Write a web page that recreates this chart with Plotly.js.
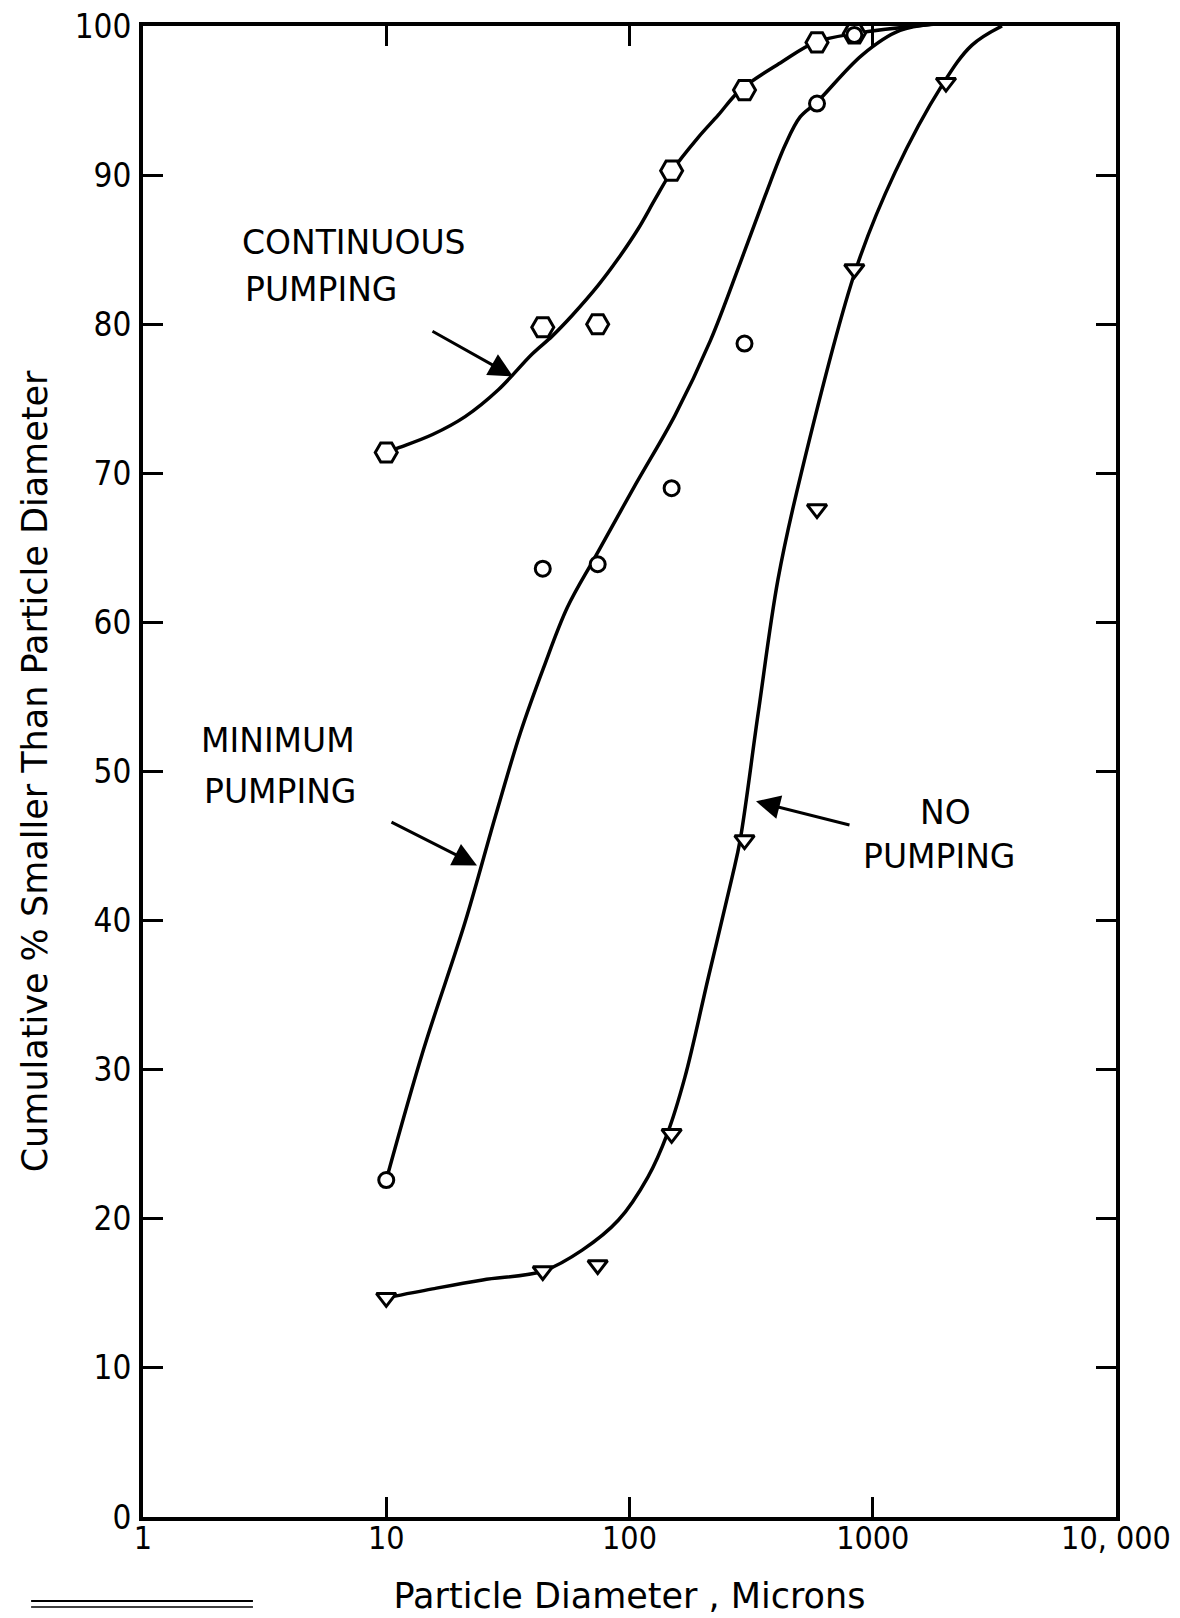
<!DOCTYPE html>
<html>
<head>
<meta charset="utf-8">
<script src="https://cdn.plot.ly/plotly-3.0.1.min.js"></script>
<style>html,body{margin:0;padding:0;background:#fff;}#chart{width:1180px;height:1618px;}</style>
</head>
<body>
<div id="chart"></div>
<script>
// Measured sieve sizes (microns)
const sizes = [10, 44, 74, 149, 297, 590, 840, 2000];
// Measured points, cumulative % smaller than particle diameter
const continuousPts = [71.4, 79.8, 80.0, 90.3, 95.7, 98.9, 99.5, 100.2];
const minimumPts    = [22.6, 63.6, 63.9, 69.0, 78.7, 94.8, 99.4, 100.2];
const noPumpPts     = [14.7, 16.5, 16.9, 25.7, 45.4, 67.6, 83.7, 96.2];

// Hand-drawn fitted curves
const continuousCurveX = [10, 11.2, 15.5, 21.1, 28.9, 39.8, 48.1, 58.2, 74.3, 89.9, 108.6, 127.6, 149.7, 191, 231, 285, 424, 580, 846, 2000];
const continuousCurveY = [71.4, 71.7, 72.6, 73.8, 75.6, 78.0, 79.2, 80.6, 82.6, 84.4, 86.4, 88.4, 90.3, 92.5, 94.0, 95.7, 97.6, 98.9, 99.5, 100.2];
const minimumCurveX = [10, 14.2, 21.1, 28.1, 35.6, 44.2, 55.5, 72.3, 105.5, 154, 215, 285, 361, 436, 503, 590, 904, 1295, 2000];
const minimumCurveY = [22.6, 31.3, 39.9, 47.0, 52.6, 56.9, 61.0, 64.4, 69.2, 73.9, 78.9, 84.1, 88.6, 92.0, 93.9, 94.9, 98.05, 99.7, 100.2];
const noPumpCurveX = [10, 15.5, 24.9, 44.2, 63.9, 89.9, 119, 143, 169, 211, 264, 285, 338, 408, 508, 853, 1236, 1923, 2552, 3400];
const noPumpCurveY = [14.7, 15.3, 15.9, 16.5, 17.9, 19.9, 22.8, 25.7, 29.5, 36.2, 42.9, 45.4, 53.9, 62.9, 70.0, 83.7, 90.2, 96.0, 98.7, 100.0];

// Axis ticks
const xTickVals = [1, 10, 100, 1000, 10000];
const xTickText = ["1", "10", "100", "1000", "10, 000"];
const yTickVals = [0, 10, 20, 30, 40, 50, 60, 70, 80, 90, 100];

const lineStyle = {color: '#000', width: 3.5, shape: 'spline', smoothing: 1};

const traces = [
  {x: continuousCurveX, y: continuousCurveY, mode: 'lines', line: lineStyle, cliponaxis: false, hoverinfo: 'skip', showlegend: false},
  {x: minimumCurveX, y: minimumCurveY, mode: 'lines', line: lineStyle, cliponaxis: false, hoverinfo: 'skip', showlegend: false},
  {x: noPumpCurveX, y: noPumpCurveY, mode: 'lines', line: lineStyle, cliponaxis: false, hoverinfo: 'skip', showlegend: false},
  {x: sizes, y: continuousPts, mode: 'markers', name: 'Continuous pumping', cliponaxis: false, showlegend: false,
   marker: {symbol: 'hexagon2', size: 22, color: '#fff', line: {color: '#000', width: 3}}},
  {x: sizes, y: minimumPts, mode: 'markers', name: 'Minimum pumping', cliponaxis: false, showlegend: false,
   marker: {symbol: 'circle', size: 15, color: '#fff', line: {color: '#000', width: 3}}},
  {x: sizes, y: noPumpPts, mode: 'markers', name: 'No pumping', cliponaxis: false, showlegend: false,
   marker: {symbol: 'triangle-down', size: 17, color: '#fff', line: {color: '#000', width: 3}}}
];

const labelFont = {family: 'DejaVu Sans', size: 33, color: '#000'};
function txt(text, x, y) {
  return {text: text, xref: 'paper', yref: 'paper', x: x, y: y, xanchor: 'left', yanchor: 'middle', showarrow: false, font: labelFont};
}
function arrow(xlog, y, ax, ay) {
  return {text: '', xref: 'x', yref: 'y', x: xlog, y: y, ax: ax, ay: ay, axref: 'pixel', ayref: 'pixel',
          showarrow: true, arrowhead: 2, arrowsize: 1.6, arrowwidth: 3, arrowcolor: '#000'};
}

const layout = {
  width: 1180, height: 1618,
  margin: {l: 143, r: 64, t: 26, b: 101},
  paper_bgcolor: '#fff', plot_bgcolor: '#fff',
  showlegend: false,
  xaxis: {
    type: 'log', range: [0, 4],
    tickvals: xTickVals, ticktext: xTickText,
    ticks: 'inside', ticklen: 20, tickwidth: 3, tickcolor: '#000',
    showline: true, linewidth: 4, linecolor: '#000', mirror: 'ticks',
    showgrid: false, zeroline: false,
    tickfont: {family: 'DejaVu Sans Condensed', size: 32, color: '#000'},
    ticklabelstandoff: -10,
    title: {text: 'Particle Diameter , Microns', font: {family: 'DejaVu Sans', size: 35, color: '#000'}, standoff: 28}
  },
  yaxis: {
    range: [0, 100],
    tickvals: yTickVals,
    ticks: 'inside', ticklen: 20, tickwidth: 3, tickcolor: '#000',
    showline: true, linewidth: 4, linecolor: '#000', mirror: 'ticks',
    showgrid: false, zeroline: false,
    tickfont: {family: 'DejaVu Sans Condensed', size: 33, color: '#000'},
    ticklabelstandoff: 1,
    title: {text: 'Cumulative % Smaller Than Particle Diameter', font: {family: 'DejaVu Sans', size: 35, color: '#000'}, standoff: 17}
  },
  annotations: [
    txt('CONTINUOUS', 0.0997, 0.855),
    txt('PUMPING', 0.1028, 0.8236),
    txt('MINIMUM', 0.0576, 0.5205),
    txt('PUMPING', 0.0606, 0.4863),
    txt('NO', 0.7965, 0.4728),
    txt('PUMPING', 0.738, 0.4433),
    arrow(1.521, 76.5, -82, -46),
    arrow(1.373, 43.7, -87, -44),
    arrow(2.52, 48.0, 95, 24)
  ],
  shapes: [
    {type: 'line', xref: 'paper', yref: 'paper', x0: -0.115, x1: 0.113, y0: -0.0563, y1: -0.0563, line: {color: '#000', width: 2}},
    {type: 'line', xref: 'paper', yref: 'paper', x0: -0.115, x1: 0.113, y0: -0.0604, y1: -0.0604, line: {color: '#000', width: 1.5}}
  ]
};

Plotly.newPlot('chart', traces, layout, {staticPlot: true, displayModeBar: false});
</script>
</body>
</html>
